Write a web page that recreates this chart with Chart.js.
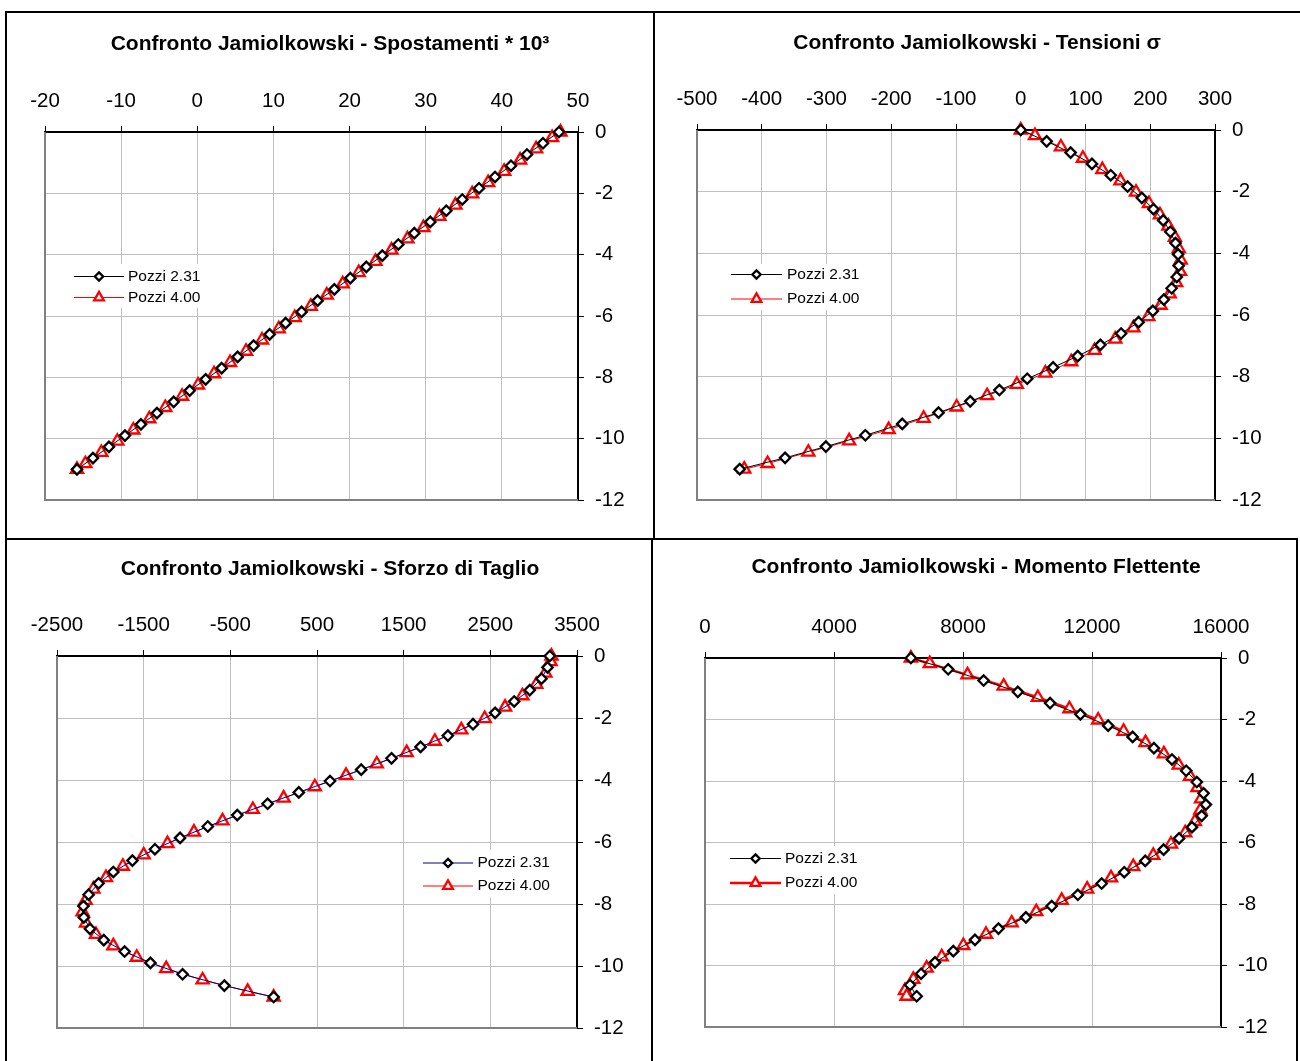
<!DOCTYPE html>
<html>
<head>
<meta charset="utf-8">
<script src="https://cdn.jsdelivr.net/npm/chart.js@4.4.1/dist/chart.umd.min.js"></script>
<style>
  body { margin: 0; background: #fff; width: 1300px; height: 1061px; overflow: hidden; position: relative; }
  canvas { position: absolute; }
  .ln { position: absolute; background: #000; }
</style>
</head>
<body>
<!-- cornici dei quattro riquadri -->
<div class="ln" style="left:5px;top:11px;width:1295px;height:2px"></div>
<div class="ln" style="left:5px;top:11px;width:2px;height:1050px"></div>
<div class="ln" style="left:653px;top:11px;width:2px;height:528px"></div>
<div class="ln" style="left:5px;top:538px;width:1293px;height:2px"></div>
<div class="ln" style="left:651px;top:538px;width:2px;height:523px"></div>
<div class="ln" style="left:1296px;top:538px;width:2px;height:523px"></div>

<canvas id="c1"></canvas>
<canvas id="c2"></canvas>
<canvas id="c3"></canvas>
<canvas id="c4"></canvas>

<script>
// profondità dei nodi (m)
const depth231 = [0, -0.367, -0.733, -1.1, -1.467, -1.833, -2.2, -2.567, -2.933, -3.3, -3.667, -4.033, -4.4, -4.767, -5.133, -5.5,
  -5.867, -6.233, -6.6, -6.967, -7.333, -7.7, -8.067, -8.433, -8.8, -9.167, -9.533, -9.9, -10.267, -10.633, -11];
const depth400 = [0, -0.183, -0.55, -0.917, -1.283, -1.65, -2.017, -2.383, -2.75, -3.117, -3.483, -3.85, -4.217, -4.583, -4.95, -5.317,
  -5.683, -6.05, -6.417, -6.783, -7.15, -7.517, -7.883, -8.25, -8.617, -8.983, -9.35, -9.717, -10.083, -10.45, -10.817, -11];

const seriesNames = ['Pozzi 2.31', 'Pozzi 4.00'];
const titles = [
  'Confronto Jamiolkowski - Spostamenti * 10³',
  'Confronto Jamiolkowski - Tensioni σ',
  'Confronto Jamiolkowski - Sforzo di Taglio',
  'Confronto Jamiolkowski - Momento Flettente'
];

// spostamenti * 10^3
const spost231 = [47.5, 45.4, 43.3, 41.2, 39.1, 37.0, 34.8, 32.7, 30.6, 28.5, 26.4, 24.3, 22.2, 20.1, 18.0, 15.8,
  13.7, 11.6, 9.5, 7.4, 5.3, 3.2, 1.1, -1.0, -3.1, -5.3, -7.4, -9.5, -11.6, -13.7, -15.8];
const spost400 = [47.7, 46.6, 44.5, 42.4, 40.3, 38.2, 36.1, 33.9, 31.8, 29.7, 27.6, 25.5, 23.4, 21.2, 19.1, 17.0,
  14.9, 12.8, 10.7, 8.5, 6.4, 4.3, 2.2, 0.1, -2.0, -4.2, -6.3, -8.4, -10.5, -12.6, -14.7, -15.8];

// tensioni sigma
const sigma231 = [0, 40, 77, 110, 139, 165, 187, 205, 220, 231, 239, 243, 244, 241, 233, 221,
  204, 182, 155, 123, 88, 50, 10, -33, -78, -127, -183, -240, -301, -364, -434];
const sigma400 = [0, 22, 62, 96, 126, 154, 178, 198, 215, 228, 238, 244, 247, 246, 240, 230,
  216, 197, 174, 146, 114, 78, 38, -6, -52, -99, -150, -204, -265, -328, -391, -427];

// sforzo di taglio
const taglio231 = [3186, 3160, 3090, 2955, 2775, 2555, 2300, 2010, 1695, 1360, 1010, 650, 290, -70, -420, -760,
  -1080, -1370, -1630, -1850, -2020, -2135, -2195, -2190, -2120, -1960, -1720, -1422, -1051, -569, 0];
const taglio400 = [3205, 3195, 3135, 3030, 2870, 2670, 2435, 2165, 1860, 1535, 1190, 835, 475, 115, -240, -590,
  -920, -1225, -1500, -1740, -1935, -2080, -2170, -2205, -2165, -2050, -1850, -1580, -1240, -820, -300, 0];

// momento flettente
const momento231 = [6384, 7540, 8640, 9700, 10700, 11640, 12500, 13260, 13920, 14480, 14920, 15250, 15460, 15530, 15400, 15100,
  14700, 14220, 13650, 13000, 12300, 11560, 10750, 9950, 9100, 8372, 7700, 7132, 6700, 6357, 6563];
const momento400 = [6384, 6970, 8140, 9260, 10320, 11300, 12190, 12980, 13660, 14230, 14690, 15040, 15270, 15380, 15360, 15190,
  14890, 14450, 13900, 13280, 12590, 11850, 11060, 10270, 9510, 8713, 8010, 7340, 6873, 6460, 6200, 6250];

// etichette degli assi
const yTicks = [-12, -10, -8, -6, -4, -2, 0];
const spostTicks = [-20, -10, 0, 10, 20, 30, 40, 50];
const sigmaTicks = [-500, -400, -300, -200, -100, 0, 100, 200, 300];
const taglioTicks = [-2500, -1500, -500, 500, 1500, 2500, 3500];
const momentoTicks = [0, 4000, 8000, 12000, 16000];

const FONT = "'Liberation Sans', Arial, Helvetica, sans-serif";
Chart.defaults.font.family = FONT;
Chart.defaults.color = '#000';

function pts(xs, ys) {
  return xs.map((v, i) => ({ x: v, y: ys[i] }));
}

function diamond(label, data, lineColor, lineWidth) {
  return {
    label, data, showLine: true, clip: false, yAxisID: 'y',
    borderColor: lineColor, borderWidth: lineWidth,
    pointStyle: 'rectRot', pointRadius: 5.2, pointBorderWidth: 2.3,
    pointBorderColor: '#000', pointBackgroundColor: '#fff'
  };
}

function triangle(label, data, lineColor, lineWidth) {
  return {
    label, data, showLine: true, clip: false, yAxisID: 'y',
    borderColor: lineColor, borderWidth: lineWidth,
    pointStyle: 'triangle', pointRadius: 7, pointBorderWidth: 2.3,
    pointBorderColor: '#ff0000', pointBackgroundColor: '#fff'
  };
}

// bordo grigio dell'area del grafico (sinistra e sotto)
const plotFrame = {
  id: 'plotFrame',
  beforeDatasetsDraw(chart) {
    const a = chart.chartArea, ctx = chart.ctx;
    ctx.save();
    ctx.strokeStyle = '#808080';
    ctx.lineWidth = 2;
    ctx.beginPath();
    ctx.moveTo(a.left, a.top);
    ctx.lineTo(a.left, a.bottom);
    ctx.lineTo(a.right, a.bottom);
    ctx.stroke();
    ctx.restore();
  }
};

// legenda dentro l'area del grafico
const insideLegend = {
  id: 'insideLegend',
  afterDatasetsDraw(chart, args, o) {
    const ctx = chart.ctx;
    ctx.save();
    ctx.translate(-o.ox, -o.oy);
    ctx.fillStyle = '#fff';
    ctx.fillRect(o.box[0], o.box[1], o.box[2], o.box[3]);
    chart.data.datasets.forEach((ds, i) => {
      const y = o.rows[i];
      ctx.strokeStyle = ds.borderColor;
      ctx.lineWidth = ds.borderWidth;
      ctx.beginPath();
      ctx.moveTo(o.x, y);
      ctx.lineTo(o.x + o.len, y);
      ctx.stroke();
      ctx.fillStyle = ds.pointBackgroundColor;
      ctx.strokeStyle = ds.pointBorderColor;
      ctx.lineWidth = ds.pointBorderWidth;
      Chart.helpers.drawPoint(ctx, {
        pointStyle: ds.pointStyle, radius: ds.pointRadius * 0.8,
        borderWidth: ds.pointBorderWidth, rotation: 0
      }, o.x + o.len / 2, y);
      ctx.fillStyle = '#000';
      ctx.font = '15.5px ' + FONT;
      ctx.textBaseline = 'middle';
      ctx.textAlign = 'left';
      ctx.fillText(ds.label, o.textX, y);
    });
    ctx.restore();
  }
};

const panels = [
  {
    id: 'c1', title: titles[0], left: 7, top: 13, width: 646, height: 525,
    area: { l: 45, r: 578, t: 132, b: 500 }, titleY: 44, xTicks: spostTicks,
    datasets: [
      diamond(seriesNames[0], pts(spost231, depth231), '#000', 1),
      triangle(seriesNames[1], pts(spost400, depth400), '#ff0000', 1)
    ],
    legend: { x: 74, len: 50, rows: [276.5, 297.5], textX: 128, box: [66, 264, 140, 44] }
  },
  {
    id: 'c2', title: titles[1], left: 656, top: 13, width: 642, height: 525,
    area: { l: 697, r: 1215, t: 130, b: 500 }, titleY: 43, xTicks: sigmaTicks,
    datasets: [
      diamond(seriesNames[0], pts(sigma231, depth231), '#000', 1),
      triangle(seriesNames[1], pts(sigma400, depth400), '#ff0000', 1)
    ],
    legend: { x: 731, len: 51, rows: [274.5, 299], textX: 787, box: [724, 264, 142, 46] }
  },
  {
    id: 'c3', title: titles[2], left: 8, top: 541, width: 644, height: 520,
    area: { l: 57, r: 577, t: 656, b: 1028 }, titleY: 569, xTicks: taglioTicks,
    datasets: [
      diamond(seriesNames[0], pts(taglio231, depth231), '#000080', 1),
      triangle(seriesNames[1], pts(taglio400, depth400), '#ff0000', 1)
    ],
    legend: { x: 423, len: 50, rows: [863, 886], textX: 477.5, box: [418, 850, 140, 48] }
  },
  {
    id: 'c4', title: titles[3], left: 654, top: 541, width: 644, height: 520,
    area: { l: 705, r: 1221, t: 658, b: 1027 }, titleY: 567, xTicks: momentoTicks,
    datasets: [
      diamond(seriesNames[0], pts(momento231, depth231), '#000', 1),
      triangle(seriesNames[1], pts(momento400, depth400), '#ff0000', 2.5)
    ],
    legend: { x: 730, len: 51, rows: [858.5, 883], textX: 785, box: [726, 846, 140, 48] }
  }
];

const tickFont = { size: 20.5, lineHeight: 1.2 };

panels.forEach(p => {
  const cv = document.getElementById(p.id);
  cv.width = p.width;
  cv.height = p.height;
  cv.style.left = p.left + 'px';
  cv.style.top = p.top + 'px';
  cv.style.width = p.width + 'px';
  cv.style.height = p.height + 'px';

  // il titolo è centrato sulla tela; un asse vuoto a sinistra sposta l'area del grafico
  const leftW = p.area.l - p.left;
  const rightW = p.left + p.width - p.area.r;
  const titleTop = p.titleY - p.top - 10.5;
  const xH = p.area.t - p.titleY - 10.5;

  new Chart(cv, {
    type: 'scatter',
    data: { datasets: p.datasets },
    plugins: [plotFrame, insideLegend],
    options: {
      responsive: false,
      animation: false,
      devicePixelRatio: 1,
      layout: { padding: { left: 0, right: 0, top: 0, bottom: p.top + p.height - p.area.b } },
      elements: { line: { tension: 0 } },
      plugins: {
        legend: { display: false },
        tooltip: { enabled: false },
        title: {
          display: true, text: p.title, color: '#000',
          font: { size: 21, weight: 'bold', lineHeight: 1 },
          padding: { top: titleTop, bottom: 0 }
        },
        insideLegend: Object.assign({ ox: p.left, oy: p.top }, p.legend)
      },
      scales: {
        x: {
          type: 'linear', position: 'top',
          min: p.xTicks[0], max: p.xTicks[p.xTicks.length - 1],
          afterBuildTicks: s => { s.ticks = p.xTicks.map(v => ({ value: v })); },
          afterFit: s => { s.height = xH; },
          grid: { color: '#c0c0c0', lineWidth: 1, tickColor: '#000', tickLength: 6, tickWidth: 1 },
          border: { display: true, color: '#000', width: 2 },
          ticks: { color: '#000', font: tickFont, padding: 12, maxRotation: 0, autoSkip: false, callback: v => String(v) }
        },
        y: {
          type: 'linear', position: 'right',
          min: yTicks[0], max: yTicks[yTicks.length - 1],
          afterBuildTicks: s => { s.ticks = yTicks.map(v => ({ value: v })); },
          afterFit: s => { s.width = rightW; },
          grid: { color: '#c0c0c0', lineWidth: 1, tickColor: '#000', tickLength: 6, tickWidth: 1 },
          border: { display: true, color: '#000', width: 2 },
          ticks: { color: '#000', font: tickFont, padding: 11, autoSkip: false, callback: v => String(v) }
        },
        yL: {
          type: 'linear', position: 'left',
          min: yTicks[0], max: yTicks[yTicks.length - 1],
          afterFit: s => { s.width = leftW; },
          grid: { display: false },
          border: { display: false },
          ticks: { display: false }
        }
      }
    }
  });
});
</script>
</body>
</html>
